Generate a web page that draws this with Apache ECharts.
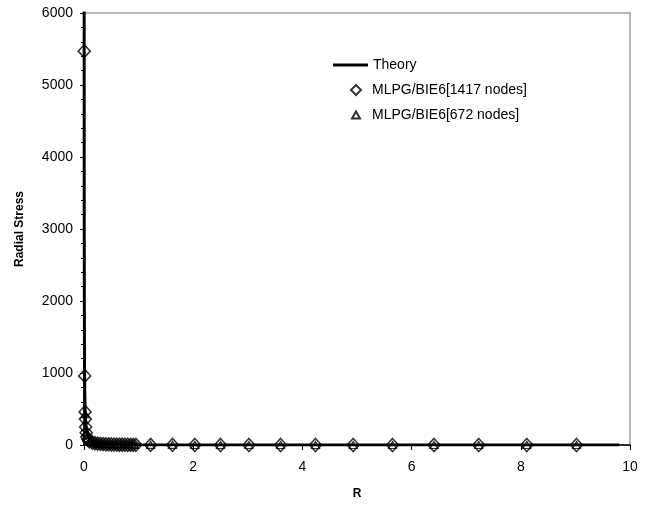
<!DOCTYPE html>
<html>
<head>
<meta charset="utf-8">
<script src="https://cdn.jsdelivr.net/npm/echarts@6/dist/echarts.min.js"></script>
<style>
  html, body { margin: 0; padding: 0; background: #fff; }
  #chart { width: 650px; height: 508px; }
</style>
</head>
<body>
<div id="chart"></div>
<script>
// Radial stress against radius: analytic curve and two MLPG/BIE6 node sets
const theoryR      = [0.0025, 0.004, 0.006, 0.01, 0.015, 0.02, 0.03, 0.05, 0.08, 0.12, 0.2, 0.35, 0.6, 1, 2, 4, 6, 8, 9.8];
const theoryStress = [6400, 3300, 2000, 1050, 700, 500, 320, 180, 100, 60, 30, 14, 6, 3, 1, 0, 0, 0, 0];

const fineR      = [0.004, 0.012, 0.02, 0.025, 0.03, 0.04, 0.05, 0.07, 0.1, 0.15, 0.2, 0.25, 0.3, 0.35, 0.4, 0.45, 0.5, 0.55, 0.6, 0.65, 0.7, 0.75, 0.8, 0.85, 0.9, 0.95, 1.22, 1.62, 2.03, 2.5, 3.02, 3.6, 4.24, 4.93, 5.65, 6.41, 7.23, 8.11, 9.02];
const fineStress = [5470, 960, 460, 360, 250, 170, 110, 75, 50, 35, 25, 20, 15, 12, 10, 8, 7, 6, 5, 4, 4, 3, 3, 2, 2, 2, 1, 1, 0, 0, 0, 0, 0, 0, 0, 0, 0, 0, 0];

const coarseR      = [0.02, 0.04, 0.06, 0.1, 0.125, 0.175, 0.225, 0.275, 0.325, 0.375, 0.425, 0.475, 0.525, 0.575, 0.625, 0.675, 0.725, 0.775, 0.825, 0.875, 0.925, 1.22, 1.62, 2.03, 2.5, 3.02, 3.6, 4.24, 4.93, 5.65, 6.41, 7.23, 8.11, 9.02];
const coarseStress = [430, 180, 95, 50, 40, 30, 22, 17, 13, 11, 9, 8, 6, 5, 4, 4, 3, 3, 2, 2, 2, 1, 1, 0, 0, 0, 0, 0, 0, 0, 0, 0, 0, 0];

const xTicks = { min: 0, max: 10, interval: 2 };
const yTicks = { min: 0, max: 6000, interval: 1000 };

const seriesNames = ['Theory', 'MLPG/BIE6[1417 nodes]', 'MLPG/BIE6[672 nodes]'];

const zip = (xs, ys) => xs.map((x, i) => [x, ys[i]]);
const FONT = '"Liberation Sans", Arial, sans-serif';
const DIAMOND = 'path://M5,0 L10,5 L5,10 L0,5 Z';
const TRIANGLE = 'path://M5,0 L10,9 L0,9 Z';

const chart = echarts.init(document.getElementById('chart'), null, { renderer: 'canvas' });

const legendText = { fontFamily: FONT, fontSize: 14, color: '#000' };

chart.setOption({
  backgroundColor: '#fff',
  animation: false,
  grid: {
    left: 84, right: 20, top: 13, bottom: 63,
    show: true, borderColor: '#a0a0a0', borderWidth: 1.5, backgroundColor: 'transparent'
  },
  legend: [
    {
      data: [{ name: seriesNames[0], icon: 'path://M0,0 L35,0 L35,3 L0,3 Z' }],
      left: 328, top: 53, itemWidth: 35, itemHeight: 3,
      textStyle: legendText, selectedMode: false
    },
    {
      data: [{ name: seriesNames[1], icon: DIAMOND }],
      left: 345, top: 78, itemWidth: 10, itemHeight: 10,
      textStyle: Object.assign({ padding: [0, 0, 0, 6] }, legendText), selectedMode: false
    },
    {
      data: [{ name: seriesNames[2], icon: TRIANGLE }],
      left: 346, top: 103, itemWidth: 8, itemHeight: 8,
      textStyle: Object.assign({ padding: [0, 0, 0, 7] }, legendText), selectedMode: false
    }
  ],
  xAxis: {
    type: 'value',
    min: xTicks.min, max: xTicks.max, interval: xTicks.interval,
    name: 'R', nameLocation: 'middle', nameGap: 43,
    nameTextStyle: { fontFamily: FONT, fontSize: 12, fontWeight: 'bold', color: '#000' },
    axisLine: { onZero: false, lineStyle: { color: '#000', width: 1.5 } },
    axisTick: { show: true, inside: false, length: 5, lineStyle: { color: '#000', width: 1 } },
    axisLabel: { margin: 15, fontFamily: FONT, fontSize: 14, color: '#000' },
    splitLine: { show: false }
  },
  yAxis: {
    type: 'value',
    min: yTicks.min, max: yTicks.max, interval: yTicks.interval,
    name: 'Radial Stress', nameLocation: 'middle', nameGap: 58, nameRotate: 90,
    nameTextStyle: { fontFamily: FONT, fontSize: 12, fontWeight: 'bold', color: '#000' },
    axisLine: { onZero: false, lineStyle: { color: '#000', width: 1.5 } },
    axisTick: { show: true, inside: false, length: 4, lineStyle: { color: '#000', width: 1 } },
    minorTick: { show: true, splitNumber: 5, length: 3, lineStyle: { color: '#000', width: 1 } },
    axisLabel: { margin: 11, fontFamily: FONT, fontSize: 14, color: '#000', formatter: v => String(v) },
    splitLine: { show: false }
  },
  series: [
    {
      name: seriesNames[1], type: 'scatter',
      data: zip(fineR, fineStress),
      symbol: DIAMOND, symbolSize: [12, 13],
      itemStyle: { color: 'transparent', borderColor: '#000', borderWidth: 1.6 },
      z: 3
    },
    {
      name: seriesNames[2], type: 'scatter',
      data: zip(coarseR, coarseStress),
      symbol: TRIANGLE, symbolSize: [8, 7],
      itemStyle: { color: 'transparent', borderColor: '#000', borderWidth: 1.3 },
      z: 3
    },
    {
      name: seriesNames[0], type: 'line',
      data: zip(theoryR, theoryStress),
      showSymbol: false, symbol: 'none', clip: true,
      lineStyle: { color: '#000', width: 3 },
      itemStyle: { color: '#000' },
      z: 2
    }
  ]
});
</script>
</body>
</html>
